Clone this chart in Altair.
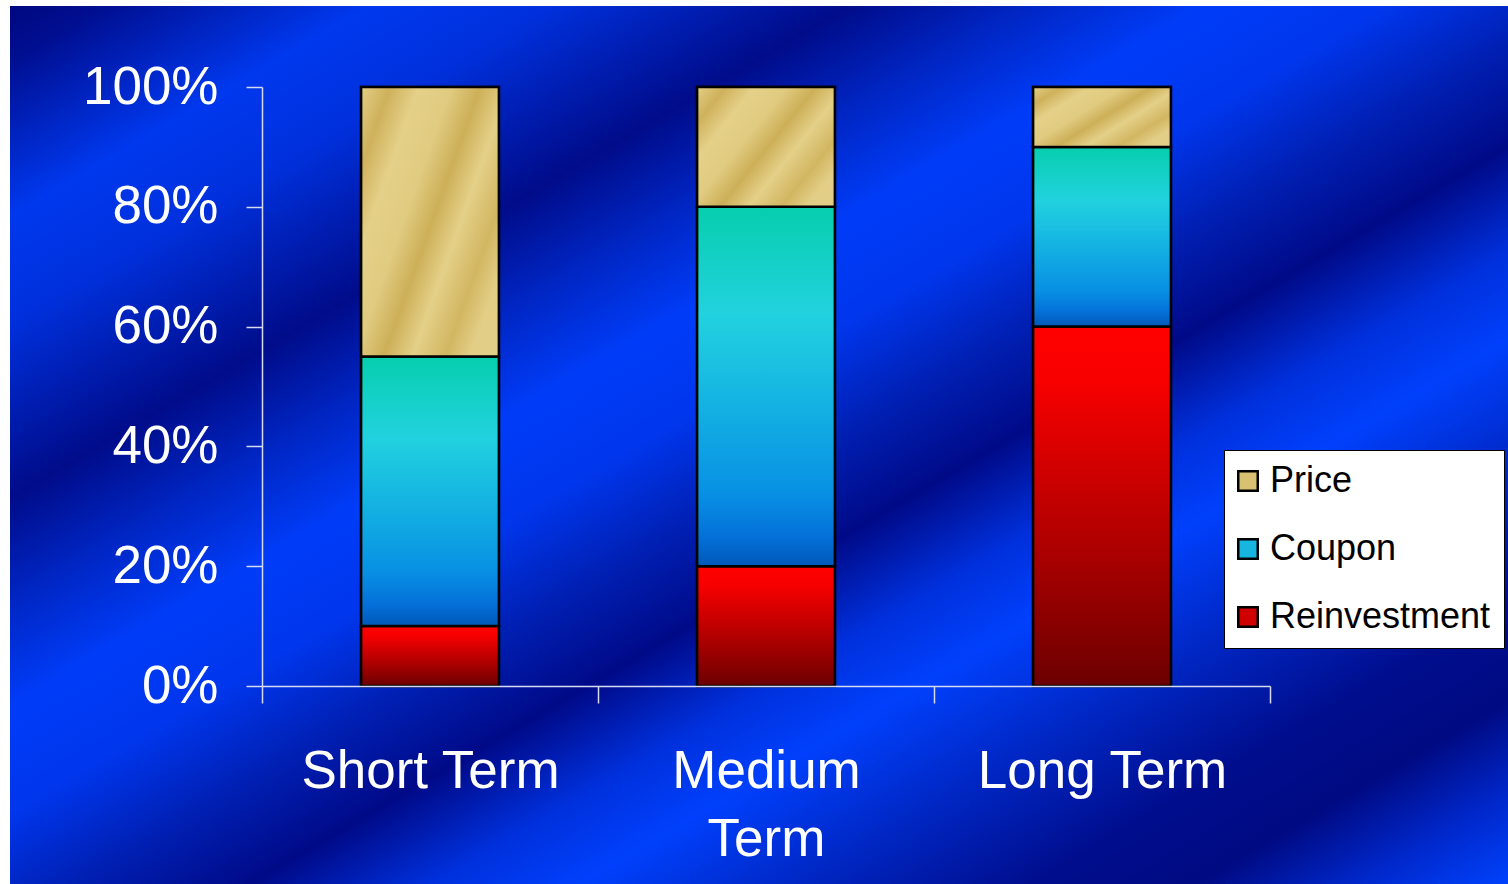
import altair as alt
import pandas as pd

# ---- data -------------------------------------------------------------
categories = ["Short Term", "Medium Term", "Long Term"]
series = ["Reinvestment", "Coupon", "Price"]          # stacking order, bottom -> top
reinvestment = [0.10, 0.20, 0.60]
coupon = [0.45, 0.60, 0.30]
price = [0.45, 0.20, 0.10]
y_ticks = [0.0, 0.2, 0.4, 0.6, 0.8, 1.0]
legend_order = ["Price", "Coupon", "Reinvestment"]
legend_colors = ["#D8C170", "#17B6E0", "#D00000"]

rows = []
for i, cat in enumerate(categories):
    base = 0.0
    for name, vals in zip(series, [reinvestment, coupon, price]):
        rows.append({"term": cat, "component": name, "start": base, "end": base + vals[i]})
        base += vals[i]
df = pd.DataFrame(rows)

FONT = "Liberation Sans"
AXIS_GREY = "#D6DAF2"
PLOT_W, PLOT_H = 1008, 599
BAR_FRACTION = 0.41


def stops(pairs):
    return [alt.GradientStop(color=c, offset=o) for o, c in pairs]


# blue slide backdrop with diagonal light/dark banding
backdrop_grad = alt.LinearGradient(
    gradient="linear", x1=0, y1=0, x2=1, y2=1,
    stops=stops([
        (0.00, "#000880"), (0.03, "#000E90"), (0.12, "#0038EE"), (0.18, "#0030DC"),
        (0.28, "#000C8A"), (0.34, "#0026C4"), (0.40, "#003CF8"), (0.46, "#0036EC"),
        (0.52, "#0020B4"), (0.58, "#000A88"), (0.64, "#0030DC"), (0.69, "#0040FC"),
        (0.76, "#0028C6"), (0.84, "#000E8E"), (0.895, "#000A82"), (0.95, "#0028CC"),
        (1.00, "#0042FC"),
    ]),
)

fills = {
    "Reinvestment": alt.LinearGradient(
        gradient="linear", x1=0, y1=0, x2=0, y2=1,
        stops=stops([(0.0, "#FF0000"), (0.15, "#F80000"), (0.6, "#B00000"), (1.0, "#6C0000")]),
    ),
    "Coupon": alt.LinearGradient(
        gradient="linear", x1=0, y1=0, x2=0, y2=1,
        stops=stops([(0.0, "#06CEAE"), (0.3, "#22D2DF"), (0.55, "#14B2E2"),
                     (0.8, "#0890E4"), (0.92, "#0470D8"), (1.0, "#0058B8")]),
    ),
    "Price": alt.LinearGradient(
        gradient="linear", x1=0, y1=0, x2=1, y2=0.7,
        stops=stops([(0.0, "#E2CE86"), (0.14, "#CFB15C"), (0.28, "#E4D088"),
                     (0.44, "#E0CB80"), (0.58, "#CDAF58"), (0.72, "#E4D088"),
                     (0.88, "#D2B662"), (1.0, "#E2CE86")]),
    ),
}

backdrop = alt.Chart(pd.DataFrame({"k": [0]})).mark_rect(color=backdrop_grad).encode(
    x=alt.value(-252), x2=alt.value(1246), y=alt.value(-81), y2=alt.value(797)
)

x_enc = alt.X(
    "term:N", sort=categories,
    scale=alt.Scale(paddingInner=0, paddingOuter=0),
    axis=alt.Axis(
        title=None, labelAngle=0, tickBand="extent", tickSize=17, zindex=1,
        tickColor=AXIS_GREY, domainColor=AXIS_GREY, tickWidth=1.5, domainWidth=1.5,
        labelFont=FONT, labelFontSize=53, labelColor="white", labelPadding=42,
        labelLineHeight=68, labelLimit=0, labelOverlap=False,
        labelExpr="datum.label == 'Medium Term' ? ['Medium', 'Term'] : datum.label",
    ),
)
y_enc = alt.Y(
    "start:Q",
    scale=alt.Scale(domain=[0, 1], nice=False),
    axis=alt.Axis(
        title=None, values=y_ticks, format=".0%", grid=False, tickSize=16, zindex=1,
        tickColor=AXIS_GREY, domainColor=AXIS_GREY, tickWidth=1.5, domainWidth=1.5,
        labelFont=FONT, labelFontSize=53, labelColor="white", labelPadding=28,
    ),
)

# solid layer carries the legend
legend_layer = alt.Chart(df).mark_bar(
    stroke="black", strokeWidth=2.5, width=alt.RelativeBandSize(BAR_FRACTION)
).encode(
    x=x_enc, y=y_enc, y2="end:Q",
    color=alt.Color(
        "component:N",
        scale=alt.Scale(domain=legend_order, range=legend_colors),
        legend=alt.Legend(
            title=None, orient="none", legendX=962, legendY=363,
            fillColor="white", strokeColor="black", padding=13,
            symbolType="square", symbolSize=380, symbolStrokeColor="black",
            symbolStrokeWidth=2.5, symbolOpacity=1, symbolOffset=-7,
            labelFont=FONT, labelFontSize=36, labelColor="black",
            labelOffset=4, rowPadding=32, labelLimit=0,
        ),
    ),
)

gradient_layers = [
    alt.Chart(df).transform_filter(alt.datum.component == name)
    .mark_bar(color=fills[name], stroke="black", strokeWidth=2.5,
              width=alt.RelativeBandSize(BAR_FRACTION))
    .encode(x=alt.X("term:N", sort=categories), y="start:Q", y2="end:Q")
    for name in series
]

chart = (
    alt.layer(backdrop, legend_layer, *gradient_layers)
    .properties(width=PLOT_W, height=PLOT_H, background="white",
                padding={"left": 10, "top": 6, "right": 0, "bottom": 0})
    .configure_view(stroke=None)
)

chart.save("out.html", embed_options={"renderer": "svg", "actions": False})
